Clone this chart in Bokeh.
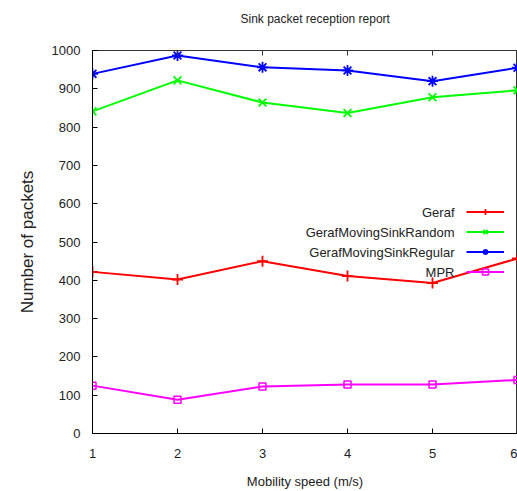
from bokeh.plotting import figure
from bokeh.models import Legend, LegendItem, Label, LinearAxis, FixedTicker, Range1d
from bokeh.embed import file_html
from bokeh.resources import INLINE

speed = [1, 2, 3, 4, 5, 6]
geraf = [422, 402, 450, 411, 393, 457]
geraf_random = [841, 922, 864, 837, 878, 896]
geraf_regular = [939, 987, 956, 948, 920, 955]
mpr = [125, 88, 123, 128, 128, 140]

series_names = ["Geraf", "GerafMovingSinkRandom", "GerafMovingSinkRegular", "MPR"]
series_values = [geraf, geraf_random, geraf_regular, mpr]
series_colors = ["#ff0000", "#00ff00", "#0000ff", "#ff00ff"]
series_markers = ["cross", "x", "asterisk", "square"]
x_ticks = [1, 2, 3, 4, 5, 6]
y_ticks = list(range(0, 1001, 100))

FONT = "Liberation Sans"

p = figure(width=517, height=491,
           x_range=Range1d(1, 6), y_range=Range1d(0, 1000),
           output_backend="svg", toolbar_location=None,
           min_border_left=92, min_border_right=0, min_border_top=50,
           min_border_bottom=58)
p.background_fill_color = "white"
p.border_fill_color = "white"
p.outline_line_color = "#333333"
p.xgrid.visible = False
p.ygrid.visible = False

p.title.text = "Sink packet reception report"
p.title.align = "left"
p.title.offset = 148
p.title.vertical_align = "bottom"
p.title.standoff = 0
p.title.padding = dict(left=0, right=0, top=0, bottom=25)
p.title.text_font = FONT
p.title.text_font_size = "12px"
p.title.text_font_style = "normal"
p.title.text_color = "#222222"

for ax in (p.xaxis[0], p.yaxis[0]):
    ax.axis_line_color = "black"
    ax.major_tick_line_color = "black"
    ax.major_tick_in = 5
    ax.major_tick_out = 0
    ax.minor_tick_line_color = None
    ax.major_label_text_font = FONT
    ax.major_label_text_font_size = "13px"
    ax.major_label_text_color = "#222222"
    ax.axis_label_text_font = FONT
    ax.axis_label_text_font_style = "normal"
    ax.axis_label_text_color = "#222222"

p.xaxis.ticker = FixedTicker(ticks=x_ticks)
p.yaxis.ticker = FixedTicker(ticks=y_ticks)
p.xaxis.axis_label = "Mobility speed (m/s)"
p.xaxis.axis_label_text_font_size = "13px"
p.xaxis.major_label_standoff = 15
p.xaxis.axis_label_standoff = 13
p.yaxis.axis_label = "Number of packets"
p.yaxis.axis_label_text_font_size = "17px"
p.yaxis.major_label_standoff = 12
p.yaxis.axis_label_standoff = 12

top = LinearAxis(ticker=FixedTicker(ticks=x_ticks))
top.axis_line_color = "#333333"
top.major_tick_line_color = "#333333"
top.major_tick_in = 5
top.major_tick_out = 0
top.minor_tick_line_color = None
top.major_label_overrides = {t: "" for t in x_ticks}
top.major_label_standoff = 0
p.add_layout(top, "above")

items = []
for name, vals, col, mk in zip(series_names, series_values, series_colors, series_markers):
    r1 = p.line(speed, vals, line_color=col, line_width=2)
    if mk == "square":
        r2 = p.scatter(speed, vals, marker=mk, size=7, line_color=col, fill_color=None, line_width=1.5)
    else:
        r2 = p.scatter(speed, vals, marker=mk, size=11, line_color=col, line_width=1.8)
    items.append(LegendItem(label=" ", renderers=[r1, r2]))

row_h = 15
row_sp = 5
leg_x = 374
leg_bottom = 154
legend = Legend(items=items, location=(leg_x, leg_bottom), padding=0, margin=0,
                border_line_color=None, background_fill_alpha=0,
                glyph_width=38, glyph_height=row_h, label_height=row_h,
                spacing=row_sp, label_text_font_size="13px", label_standoff=0)
p.add_layout(legend, "center")

n = len(series_names)
leg_top = leg_bottom + n * row_h + (n - 1) * row_sp
for i, name in enumerate(series_names):
    yc = leg_top - i * (row_h + row_sp) - row_h / 2
    p.add_layout(Label(x=leg_x - 12, y=yc, x_units="screen", y_units="screen", text=name,
                       text_align="right", text_baseline="middle", text_font=FONT,
                       text_font_size="13px", text_color="#222222"))

open("out.html", "w").write(file_html(p, INLINE))
